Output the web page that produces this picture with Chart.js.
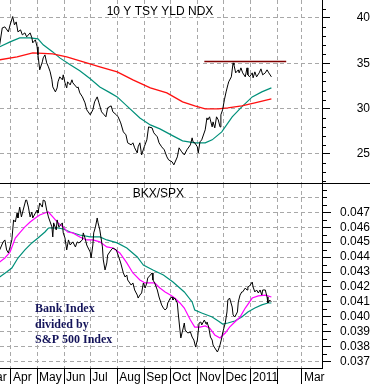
<!DOCTYPE html>
<html>
<head>
<meta charset="utf-8">
<script src="https://cdn.jsdelivr.net/npm/chart.js@4.4.0/dist/chart.umd.min.js"></script>
<style>
body { margin: 0; background: #fff; }
#wrap { position: relative; width: 370px; height: 384px; }
canvas { position: absolute; left: 0; }
</style>
</head>
<body>
<div id="wrap">
<canvas id="topChart" width="370" height="184" style="top:0"></canvas>
<canvas id="botChart" width="370" height="200" style="top:184px"></canvas>
</div>
<script>
// x values are days counted from 1 Mar 2010
let monthDays = [0, 31, 61, 92, 122, 153, 184, 214, 245, 275, 306, 337, 365];
let monthLabels = ["Mar", "Apr", "May", "Jun", "Jul", "Aug", "Sep", "Oct", "Nov", "Dec", "2011", "", "Mar"];

// 10 Y treasury yield index (x10)
let tnxDays = [18,21,24,28,30,33,35,37,39,42,
    44,47,49,53,55,56,59,61,62,64,
    67,68,70,72,74,76,78,79,82,84,
    85,87,90,91,93,95,96,99,101,102,
    107,108,110,113,116,118,122,125,127,130,
    132,135,138,140,142,146,148,152,154,157,
    160,163,165,169,171,173,176,177,179,181,
    184,187,189,193,195,199,201,204,207,210,
    212,216,218,222,224,227,230,233,237,239,
    240,242,245,246,248,250,254,256,257,259,
    262,263,265,267,269,271,272,274,276,278,
    280,281,284,286,287,289,292,293,295,297,
    300,302,303,305,308,309,311,313,316,318,
    320,323,325,327,330];
let tnxVals = [37.04,38.91,39.02,38.47,39.24,40.16,39.24,39.57,38.47,38.69,
    38.14,38.36,37.92,38.36,37.81,37.26,37.59,36.82,35.93,34.28,
    35.16,35.60,35.93,35.05,34.61,34.06,33.18,32.40,31.85,32.29,
    32.96,33.51,33.18,33.73,32.85,32.29,32.96,32.62,33.18,32.85,
    32.29,32.40,31.74,31.30,30.64,29.87,29.32,29.87,30.75,31.30,
    30.64,29.65,29.32,29.10,30.09,30.31,29.65,29.32,29.10,28.43,
    27.44,27.11,26.23,26.01,26.23,25.68,25.12,25.79,26.23,24.90,
    25.79,26.56,27.99,27.88,27.33,26.89,26.23,25.79,25.46,24.68,
    24.35,24.13,23.80,24.68,25.68,25.24,24.90,25.46,26.01,26.78,
    26.34,26.23,25.79,25.12,26.34,26.56,27.66,28.98,28.76,29.10,
    27.99,28.54,27.88,29.10,28.76,27.99,29.32,29.87,30.97,31.85,
    32.62,32.96,33.51,35.05,34.83,33.95,34.28,33.95,34.50,33.95,
    33.51,34.50,33.73,33.51,33.95,33.40,34.06,33.51,33.95,34.39,
    33.73,33.95,34.28,33.95,33.51];

let tnxLongDays = [18,38,56,79,95,114,133,153,171,191,210,228,242,254,269,280,296,311,330];
let tnxLongVals = [35.38,35.71,36.15,36.04,35.71,35.16,34.61,34.06,33.18,32.29,31.74,30.75,30.31,29.98,29.98,30.09,30.31,30.64,31.08];

let tnxShortDays = [18,30,41,53,62,68,79,87,99,110,122,133,145,153,164,179,191,202,217,228,242,254,262,273,285,296,308,319,330];
let tnxShortVals = [36.82,37.37,37.81,37.81,37.70,37.04,36.26,35.60,34.83,34.17,33.29,32.40,31.74,31.30,30.31,28.98,28.21,27.77,27.00,26.45,26.23,26.23,26.56,27.44,29.10,30.20,31.30,31.85,32.29];

let resistDays = [253, 347];
let resistVals = [35.2, 35.2];

// BKX / SPX ratio
let bkxDays = [18,22,24,26,28,30,32,34,36,38,
    39,41,43,45,48,49,51,53,55,56,
    59,61,62,64,67,68,70,72,74,76,
    78,79,80,83,84,86,90,91,93,95,
    97,99,102,105,107,109,113,114,116,118,
    119,122,123,125,126,128,130,131,133,136,
    137,139,141,142,146,148,152,154,157,160,
    162,164,165,169,171,173,176,177,179,181,
    183,185,187,188,191,193,194,196,199,201,
    204,206,208,210,211,214,216,217,219,222,
    223,225,226,229,230,231,234,237,239,241,
    243,245,247,249,250,253,255,256,258,260,
    262,263,265,268,269,271,273,274,277,279,
    280,282,285,286,288,291,292,294,296,297,
    300,302,303,305,308,309,311,313,315,317,
    319,320,323,325,326,328,330];
let bkxVals = [0.04448,0.04502,0.04515,0.04448,0.04428,0.04468,0.04515,0.04649,0.04635,0.04695,
    0.04662,0.04735,0.04669,0.04715,0.04782,0.04782,0.04735,0.04669,0.04702,0.04662,
    0.04695,0.04715,0.04695,0.04762,0.04735,0.04782,0.04776,0.04715,0.04669,0.04635,
    0.04602,0.04535,0.04629,0.04582,0.04649,0.04602,0.04629,0.04562,0.04528,0.04448,
    0.04515,0.04481,0.04502,0.04468,0.04502,0.04495,0.04515,0.04562,0.04528,0.04481,
    0.04468,0.04434,0.04394,0.04481,0.04562,0.04602,0.04662,0.04629,0.04582,0.04468,
    0.04381,0.04314,0.04361,0.04414,0.04448,0.04461,0.04448,0.04414,0.04361,0.04294,
    0.04267,0.04280,0.04247,0.04213,0.04227,0.04180,0.04146,0.04126,0.04146,0.04160,
    0.04227,0.04193,0.04227,0.04260,0.04280,0.04294,0.04247,0.04227,0.04180,0.04133,
    0.04080,0.04059,0.04046,0.04059,0.04093,0.04126,0.04133,0.04113,0.04126,0.04093,
    0.04026,0.03912,0.03859,0.03932,0.03959,0.03912,0.03892,0.03899,0.03865,0.03845,
    0.03798,0.03845,0.03959,0.03966,0.03946,0.03979,0.03952,0.03966,0.03932,0.03865,
    0.03845,0.03812,0.03792,0.03765,0.03778,0.03812,0.03859,0.03892,0.03959,0.04033,
    0.04113,0.04126,0.04066,0.04013,0.03999,0.04033,0.04100,0.04146,0.04167,0.04167,
    0.04193,0.04180,0.04200,0.04207,0.04233,0.04200,0.04167,0.04180,0.04160,0.04180,
    0.04146,0.04180,0.04180,0.04133,0.04093,0.04113,0.04100];

let bkxShortDays = [18,24,30,36,41,47,53,59,64,70,74,79,85,91,96,102,110,118,125,133,141,148,156,164,171,179,185,191,196,202,208,214,219,225,230,237,242,248,254,259,265,271,277,282,288,294,300,308,315,323,330];
let bkxShortVals = [0.04367,0.04394,0.04434,0.04528,0.04562,0.04602,0.04635,0.04662,0.04682,0.04695,
    0.04702,0.04669,0.04629,0.04602,0.04568,0.04562,0.04535,0.04515,0.04515,0.04502,
    0.04468,0.04461,0.04428,0.04361,0.04294,0.04247,0.04227,0.04227,0.04227,0.04193,
    0.04167,0.04146,0.04126,0.04093,0.04059,0.03979,0.03932,0.03932,0.03939,0.03926,
    0.03879,0.03859,0.03892,0.03932,0.03966,0.03999,0.04059,0.04126,0.04140,0.04146,
    0.04133];

let bkxLongDays = [18,26,32,39,47,55,62,70,74,79,85,91,99,110,122,133,141,153,164,176,183,194,206,217,230,239,242,250,262,269,274,280,288,296,303,311,319,326,330];
let bkxLongVals = [0.04267,0.04300,0.04327,0.04394,0.04448,0.04495,0.04528,0.04568,0.04595,0.04595,
    0.04595,0.04588,0.04568,0.04548,0.04535,0.04535,0.04515,0.04495,0.04461,0.04401,
    0.04347,0.04314,0.04280,0.04233,0.04167,0.04100,0.04046,0.04026,0.03999,0.03972,
    0.03952,0.03959,0.03972,0.03999,0.04033,0.04059,0.04080,0.04093,0.04093];

// axis ticks
let tnxTicks = [22,23,24,25,26,27,28,29,30,31,32,33,34,35,36,37,38,39,40,41];
let tnxLabelTicks = [25, 30, 35, 40];
let tnxGridTicks = [25, 30, 35, 40];

let bkxTicks = [0.037,0.0375,0.038,0.0385,0.039,0.0395,0.040,0.0405,0.041,0.0415,0.042,0.0425,
    0.043,0.0435,0.044,0.0445,0.045,0.0455,0.046,0.0465,0.047,0.0475,0.048,0.0485];
let bkxLabelTicks = [0.037,0.038,0.039,0.040,0.041,0.042,0.043,0.044,0.045,0.046,0.047];
let bkxGridTicks = [0.037,0.038,0.039,0.040,0.041,0.042,0.043,0.044,0.045,0.046,0.047,0.048];

const FONT = "Arial, 'Liberation Sans', sans-serif";
const GRID = "#a8a8a8";
const TEAL = "#00907a";

function pts(xs, ys) {
    return xs.map((x, i) => ({ x: x, y: ys[i] }));
}

function line(xs, ys, color, width) {
    return {
        data: pts(xs, ys),
        borderColor: color,
        borderWidth: width,
        pointRadius: 0,
        tension: 0,
        fill: false
    };
}

function xAxis(showLabels) {
    return {
        type: "linear",
        min: 18.4,
        max: 388.1,
        afterBuildTicks: s => { s.ticks = monthDays.map(v => ({ value: v })); },
        afterFit: s => {
            s.height = showLabels ? 16 : 0;
            s.paddingLeft = 0;
            s.paddingRight = 0;
        },
        grid: {
            color: GRID,
            lineWidth: 1,
            drawTicks: showLabels,
            tickLength: 16,
            tickColor: "#000",
            tickBorderDash: []
        },
        border: { display: true, color: "#000", width: 1, dash: [4, 3] },
        ticks: {
            display: showLabels,
            autoSkip: false,
            maxRotation: 0,
            align: "start",
            labelOffset: 2,
            padding: -14,
            color: "#000",
            font: { family: FONT, size: 12 },
            callback: (v, i) => monthLabels[i]
        }
    };
}

function yAxis(min, max, tickVals, labelVals, gridVals, tickLen, pad, fmt) {
    return {
        type: "linear",
        position: "right",
        min: min,
        max: max,
        afterBuildTicks: s => { s.ticks = tickVals.map(v => ({ value: v })); },
        afterFit: s => {
            s.width = 48;
            s.paddingTop = 0;
            s.paddingBottom = 0;
        },
        grid: {
            color: c => (c.tick && gridVals.includes(c.tick.value)) ? GRID : "rgba(0,0,0,0)",
            lineWidth: 1,
            tickLength: tickLen,
            tickColor: c => (c.tick && labelVals.includes(c.tick.value)) ? "#000" : "rgba(0,0,0,0)",
            tickBorderDash: []
        },
        border: { display: true, color: "#000", width: 1, dash: [4, 3] },
        ticks: {
            autoSkip: false,
            crossAlign: "far",
            padding: pad,
            color: "#000",
            font: { family: FONT, size: 12 },
            callback: v => labelVals.includes(v) ? fmt(v) : ""
        }
    };
}

function minorTicks(vals, len) {
    return {
        id: "minorTicks",
        afterDraw(chart) {
            let s = chart.scales.y;
            let c = chart.ctx;
            c.save();
            c.strokeStyle = "#000";
            c.lineWidth = 1;
            c.beginPath();
            vals.forEach(v => {
                let y = Math.round(s.getPixelForValue(v)) + 0.5;
                c.moveTo(s.left, y);
                c.lineTo(s.left + len, y);
            });
            c.stroke();
            c.restore();
        }
    };
}

function texts(items, divider) {
    return {
        id: "texts",
        afterDraw(chart) {
            let c = chart.ctx;
            c.save();
            if (divider) {
                let y = chart.chartArea.bottom + 0.5;
                c.strokeStyle = "#000";
                c.lineWidth = 1;
                c.beginPath();
                c.moveTo(0, y);
                c.lineTo(chart.width, y);
                c.stroke();
            }
            items.forEach(t => {
                c.font = t.font;
                c.fillStyle = t.color;
                c.textAlign = t.align;
                c.textBaseline = "alphabetic";
                c.fillText(t.text, t.x, t.y);
            });
            c.restore();
        }
    };
}

let common = {
    responsive: false,
    animation: false,
    devicePixelRatio: 1,
    plugins: { legend: { display: false }, tooltip: { enabled: false } }
};

new Chart(document.getElementById("topChart"), {
    type: "line",
    data: {
        datasets: [
            line(tnxDays, tnxVals, "#000", 1),
            line(resistDays, resistVals, "#800000", 1.5),
            line(tnxLongDays, tnxLongVals, "#ff1010", 1.4),
            line(tnxShortDays, tnxShortVals, TEAL, 1.2)
        ]
    },
    options: Object.assign({}, common, {
        layout: { padding: { left: 0, right: 0, top: 0, bottom: 1 } },
        scales: {
            x: xAxis(false),
            y: yAxis(21.8, 41.985, tnxTicks, tnxLabelTicks, tnxGridTicks, 8, 24, v => String(v))
        }
    }),
    plugins: [
        minorTicks(tnxTicks.filter(v => !tnxLabelTicks.includes(v)), 4),
        texts([{ text: "10 Y TSY YLD NDX", x: 160, y: 15, font: "12px " + FONT, color: "#000", align: "center" }], true)
    ]
});

new Chart(document.getElementById("botChart"), {
    type: "line",
    data: {
        datasets: [
            line(bkxDays, bkxVals, "#000", 1),
            line(bkxShortDays, bkxShortVals, "#ff00ff", 1.2),
            line(bkxLongDays, bkxLongVals, TEAL, 1.2)
        ]
    },
    options: Object.assign({}, common, {
        layout: { padding: 0 },
        scales: {
            x: xAxis(true),
            y: yAxis(0.036578, 0.048894, bkxTicks, bkxLabelTicks, bkxGridTicks, 9, 5, v => v.toFixed(3))
        }
    }),
    plugins: [
        minorTicks(bkxTicks.filter(v => !bkxLabelTicks.includes(v)), 5),
        texts([
            { text: "BKX/SPX", x: 184, y: 13, font: "12px " + FONT, color: "#000", align: "right" },
            { text: "Bank Index", x: 35, y: 128, font: "bold 12px 'Liberation Serif', 'Times New Roman', serif", color: "#14145a", align: "left" },
            { text: "divided by", x: 35, y: 143.5, font: "bold 12px 'Liberation Serif', 'Times New Roman', serif", color: "#14145a", align: "left" },
            { text: "S&P 500 Index", x: 35, y: 158.5, font: "bold 12px 'Liberation Serif', 'Times New Roman', serif", color: "#14145a", align: "left" }
        ], false)
    ]
});
</script>
</body>
</html>
